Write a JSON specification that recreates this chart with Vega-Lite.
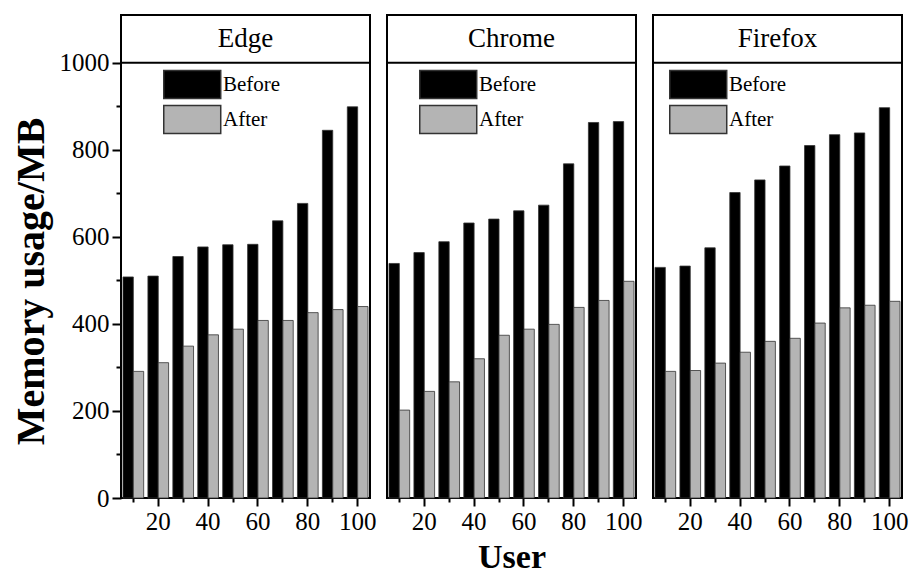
{
  "$schema": "https://vega.github.io/schema/vega-lite/v6.json",
  "padding": {"left": 10, "top": 14, "right": 0, "bottom": 0},
  "background": "white",
  "data": {"values": [
    {"browser": "Edge", "user": 10, "series": "Before", "value": 508},
    {"browser": "Edge", "user": 20, "series": "Before", "value": 510},
    {"browser": "Edge", "user": 30, "series": "Before", "value": 555},
    {"browser": "Edge", "user": 40, "series": "Before", "value": 577},
    {"browser": "Edge", "user": 50, "series": "Before", "value": 582},
    {"browser": "Edge", "user": 60, "series": "Before", "value": 583},
    {"browser": "Edge", "user": 70, "series": "Before", "value": 637},
    {"browser": "Edge", "user": 80, "series": "Before", "value": 677},
    {"browser": "Edge", "user": 90, "series": "Before", "value": 845},
    {"browser": "Edge", "user": 100, "series": "Before", "value": 899},
    {"browser": "Edge", "user": 10, "series": "After", "value": 291},
    {"browser": "Edge", "user": 20, "series": "After", "value": 311},
    {"browser": "Edge", "user": 30, "series": "After", "value": 349},
    {"browser": "Edge", "user": 40, "series": "After", "value": 375},
    {"browser": "Edge", "user": 50, "series": "After", "value": 388},
    {"browser": "Edge", "user": 60, "series": "After", "value": 408},
    {"browser": "Edge", "user": 70, "series": "After", "value": 408},
    {"browser": "Edge", "user": 80, "series": "After", "value": 426},
    {"browser": "Edge", "user": 90, "series": "After", "value": 433},
    {"browser": "Edge", "user": 100, "series": "After", "value": 440},
    {"browser": "Chrome", "user": 10, "series": "Before", "value": 539},
    {"browser": "Chrome", "user": 20, "series": "Before", "value": 564},
    {"browser": "Chrome", "user": 30, "series": "Before", "value": 589},
    {"browser": "Chrome", "user": 40, "series": "Before", "value": 632},
    {"browser": "Chrome", "user": 50, "series": "Before", "value": 641},
    {"browser": "Chrome", "user": 60, "series": "Before", "value": 660},
    {"browser": "Chrome", "user": 70, "series": "Before", "value": 673},
    {"browser": "Chrome", "user": 80, "series": "Before", "value": 768},
    {"browser": "Chrome", "user": 90, "series": "Before", "value": 863},
    {"browser": "Chrome", "user": 100, "series": "Before", "value": 865},
    {"browser": "Chrome", "user": 10, "series": "After", "value": 202},
    {"browser": "Chrome", "user": 20, "series": "After", "value": 245},
    {"browser": "Chrome", "user": 30, "series": "After", "value": 267},
    {"browser": "Chrome", "user": 40, "series": "After", "value": 320},
    {"browser": "Chrome", "user": 50, "series": "After", "value": 374},
    {"browser": "Chrome", "user": 60, "series": "After", "value": 388},
    {"browser": "Chrome", "user": 70, "series": "After", "value": 399},
    {"browser": "Chrome", "user": 80, "series": "After", "value": 438},
    {"browser": "Chrome", "user": 90, "series": "After", "value": 454},
    {"browser": "Chrome", "user": 100, "series": "After", "value": 498},
    {"browser": "Firefox", "user": 10, "series": "Before", "value": 530},
    {"browser": "Firefox", "user": 20, "series": "Before", "value": 533},
    {"browser": "Firefox", "user": 30, "series": "Before", "value": 575},
    {"browser": "Firefox", "user": 40, "series": "Before", "value": 702},
    {"browser": "Firefox", "user": 50, "series": "Before", "value": 731},
    {"browser": "Firefox", "user": 60, "series": "Before", "value": 763},
    {"browser": "Firefox", "user": 70, "series": "Before", "value": 810},
    {"browser": "Firefox", "user": 80, "series": "Before", "value": 835},
    {"browser": "Firefox", "user": 90, "series": "Before", "value": 839},
    {"browser": "Firefox", "user": 100, "series": "Before", "value": 897},
    {"browser": "Firefox", "user": 10, "series": "After", "value": 291},
    {"browser": "Firefox", "user": 20, "series": "After", "value": 293},
    {"browser": "Firefox", "user": 30, "series": "After", "value": 310},
    {"browser": "Firefox", "user": 40, "series": "After", "value": 335},
    {"browser": "Firefox", "user": 50, "series": "After", "value": 360},
    {"browser": "Firefox", "user": 60, "series": "After", "value": 367},
    {"browser": "Firefox", "user": 70, "series": "After", "value": 402},
    {"browser": "Firefox", "user": 80, "series": "After", "value": 437},
    {"browser": "Firefox", "user": 90, "series": "After", "value": 443},
    {"browser": "Firefox", "user": 100, "series": "After", "value": 452}
  ]},
  "spacing": 17,
  "bounds": "flush",
  "resolve": {"scale": {"color": "independent"}, "legend": {"color": "independent"}},
  "hconcat": [
    {
      "width": 249, "height": 483,
      "layer": [
        {
          "transform": [{"filter": "datum.browser === 'Edge'"}],
          "mark": {"type": "bar", "stroke": "#333", "strokeWidth": 0.8},
          "encoding": {
            "x": {"field": "user", "type": "ordinal", "scale": {"paddingInner": 0.17, "paddingOuter": 0.08},
              "axis": {"title": null, "labelAngle": 0, "labelExpr": "datum.value % 20 == 0 ? datum.label : ''", "tickSize": {"condition": {"test": "datum.value % 20 == 0", "value": 8}, "value": 4}}},
            "xOffset": {"field": "series", "sort": ["Before", "After"], "scale": {"paddingInner": 0}},
            "y": {"field": "value", "type": "quantitative", "scale": {"domain": [0, 1110], "nice": false},
              "axis": {"title": "Memory usage/MB", "titleFontSize": 40, "titleY": 266, "titlePadding": 8, "values": [0, 100, 200, 300, 400, 500, 600, 700, 800, 900, 1000], "labelExpr": "datum.value % 200 == 0 ? '' + datum.value : ''", "tickSize": {"condition": {"test": "datum.value % 200 == 0", "value": 9}, "value": 5}, "labelPadding": 3}},
            "color": {"field": "series", "type": "nominal", "sort": ["Before", "After"], "scale": {"domain": ["Before", "After"], "range": ["#000000", "#b4b4b4"]},
              "legend": {"legendX": 42, "legendY": 56}}
          }
        },
        {
          "data": {"values": [{"browser": "Edge"}]},
          "mark": {"type": "rule", "color": "#000", "strokeWidth": 2},
          "encoding": {"y": {"datum": 1000}}
        },
        {
          "data": {"values": [{"browser": "Edge"}]},
          "mark": {"type": "text", "font": "Liberation Serif", "fontSize": 27, "color": "#000", "baseline": "middle"},
          "encoding": {"y": {"datum": 1055}, "text": {"field": "browser"}}
        }
      ]
    },
    {
      "width": 249, "height": 483,
      "layer": [
        {
          "transform": [{"filter": "datum.browser === 'Chrome'"}],
          "mark": {"type": "bar", "stroke": "#333", "strokeWidth": 0.8},
          "encoding": {
            "x": {"field": "user", "type": "ordinal", "scale": {"paddingInner": 0.17, "paddingOuter": 0.08},
              "axis": {"title": "User", "titleFontSize": 34, "titlePadding": 6, "labelAngle": 0, "labelExpr": "datum.value % 20 == 0 ? datum.label : ''", "tickSize": {"condition": {"test": "datum.value % 20 == 0", "value": 8}, "value": 4}}},
            "xOffset": {"field": "series", "sort": ["Before", "After"], "scale": {"paddingInner": 0}},
            "y": {"field": "value", "type": "quantitative", "scale": {"domain": [0, 1110], "nice": false}, "axis": null},
            "color": {"field": "series", "type": "nominal", "sort": ["Before", "After"], "scale": {"domain": ["Before", "After"], "range": ["#000000", "#b4b4b4"]},
              "legend": {"legendX": 32, "legendY": 56}}
          }
        },
        {
          "data": {"values": [{"browser": "Chrome"}]},
          "mark": {"type": "rule", "color": "#000", "strokeWidth": 2},
          "encoding": {"y": {"datum": 1000, "axis": null}}
        },
        {
          "data": {"values": [{"browser": "Chrome"}]},
          "mark": {"type": "text", "font": "Liberation Serif", "fontSize": 27, "color": "#000", "baseline": "middle"},
          "encoding": {"y": {"datum": 1055, "axis": null}, "text": {"field": "browser"}}
        }
      ]
    },
    {
      "width": 249, "height": 483,
      "layer": [
        {
          "transform": [{"filter": "datum.browser === 'Firefox'"}],
          "mark": {"type": "bar", "stroke": "#333", "strokeWidth": 0.8},
          "encoding": {
            "x": {"field": "user", "type": "ordinal", "scale": {"paddingInner": 0.17, "paddingOuter": 0.08},
              "axis": {"title": null, "labelAngle": 0, "labelExpr": "datum.value % 20 == 0 ? datum.label : ''", "tickSize": {"condition": {"test": "datum.value % 20 == 0", "value": 8}, "value": 4}}},
            "xOffset": {"field": "series", "sort": ["Before", "After"], "scale": {"paddingInner": 0}},
            "y": {"field": "value", "type": "quantitative", "scale": {"domain": [0, 1110], "nice": false}, "axis": null},
            "color": {"field": "series", "type": "nominal", "sort": ["Before", "After"], "scale": {"domain": ["Before", "After"], "range": ["#000000", "#b4b4b4"]},
              "legend": {"legendX": 16, "legendY": 56}}
          }
        },
        {
          "data": {"values": [{"browser": "Firefox"}]},
          "mark": {"type": "rule", "color": "#000", "strokeWidth": 2},
          "encoding": {"y": {"datum": 1000, "axis": null}}
        },
        {
          "data": {"values": [{"browser": "Firefox"}]},
          "mark": {"type": "text", "font": "Liberation Serif", "fontSize": 27, "color": "#000", "baseline": "middle"},
          "encoding": {"y": {"datum": 1055, "axis": null}, "text": {"field": "browser"}}
        }
      ]
    }
  ],
  "config": {
    "font": "Liberation Serif",
    "view": {"stroke": "#000", "strokeWidth": 2},
    "axis": {"domain": false, "grid": false, "tickColor": "#000", "tickWidth": 2, "labelColor": "#000", "labelFont": "Liberation Serif", "labelFontSize": 25, "labelPadding": 3, "titleFont": "Liberation Serif", "titleFontWeight": "bold", "titleColor": "#000"},
    "legend": {"orient": "none", "title": null, "symbolType": "M-1,-1.1H3.47V1.1H-1Z", "symbolSize": 650, "symbolStrokeColor": "#333", "symbolStrokeWidth": 1.5, "symbolOpacity": 1, "labelFont": "Liberation Serif", "labelFontSize": 21, "labelColor": "#000", "labelOffset": 33, "rowPadding": 0, "padding": 0}
  }
}
